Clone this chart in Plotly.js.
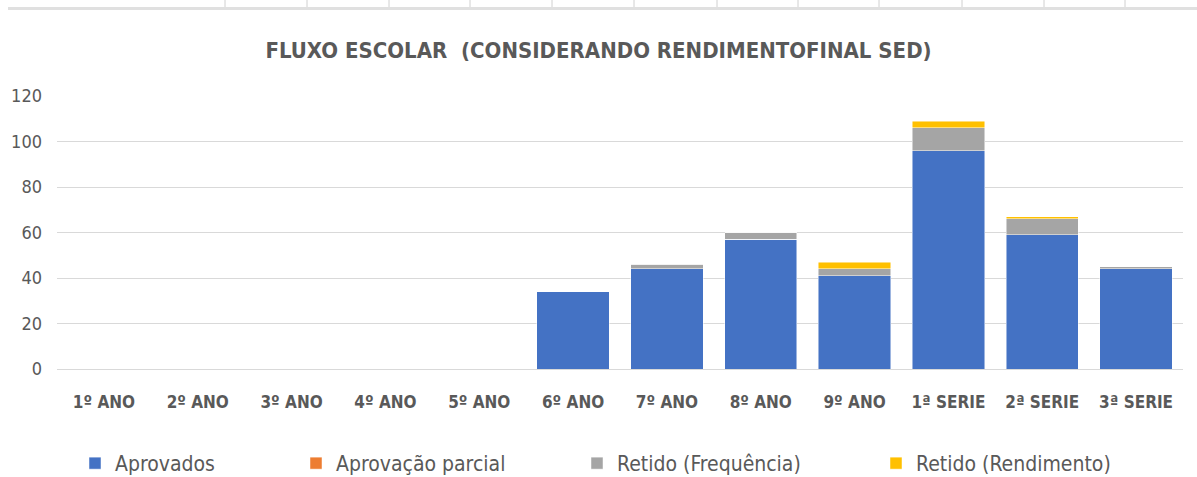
<!DOCTYPE html>
<html>
<head>
<meta charset="utf-8">
<script src="https://cdn.plot.ly/plotly-3.0.1.min.js"></script>
<style>
html,body{margin:0;padding:0;background:#fff;}
#chart{width:1197px;height:477px;}
</style>
</head>
<body>
<div id="chart"></div>
<script>
const categories = ["1º ANO","2º ANO","3º ANO","4º ANO","5º ANO","6º ANO","7º ANO","8º ANO","9º ANO","1ª SERIE","2ª SERIE","3ª SERIE"];
const aprovados = [0,0,0,0,0,34,44,57,41,96,59,44];
const aprovacaoParcial = [0,0,0,0,0,0,0,0,0,0,0,0];
const retidoFrequencia = [0,0,0,0,0,0,2,3,3,10,7,1];
const retidoRendimento = [0,0,0,0,0,0,0,0,3,3,1,0];
const seriesNames = ["Aprovados","Aprovação parcial","Retido (Frequência)","Retido (Rendimento)"];
const yTicks = [0,20,40,60,80,100,120];

const FONT = '"DejaVu Sans Condensed", "Liberation Sans Narrow", "Liberation Sans", sans-serif';
const colors = ["#4472C4","#ED7D31","#A5A5A5","#FFC000"];

// plot area in pixels
const L = 57, R = 1183, T = 96, B = 369;
const px = v => (v - L) / (R - L);
const py = v => (B - v) / (B - T);

const legendIds = ['legend','legend2','legend3','legend4'];
const legendLeft = [75, 296, 577, 876];

const data = [aprovados, aprovacaoParcial, retidoFrequencia, retidoRendimento].map((vals,i)=>({
  type:'bar', name: seriesNames[i], x: categories, y: vals, legend: legendIds[i],
  marker:{color: colors[i], line:{color:'rgba(255,255,255,0.6)', width:0.8}}
}));

// spreadsheet artifact at top
const vlines = [225,307,389,470,552,634,717,798,879,962,1044,1125];
const shapes = [{type:'rect', xref:'paper', yref:'paper', x0:px(8), x1:px(1197), y0:py(10), y1:py(7), fillcolor:'#E0E0E0', line:{width:0}}];
vlines.forEach(v=>shapes.push({type:'line', xref:'paper', yref:'paper', x0:px(v), x1:px(v), y0:py(7), y1:py(0), line:{color:'#D0D0D0', width:1}}));

const layout = {
  width:1197, height:477,
  margin:{l:L, r:1197-R, t:T, b:477-B, autoexpand:false},
  paper_bgcolor:'#fff', plot_bgcolor:'#fff',
  barmode:'stack', bargap:0.23,
  title:{text:'<b>FLUXO ESCOLAR  (CONSIDERANDO RENDIMENTOFINAL SED)</b>', x:0.5, xref:'container', xanchor:'center', y:0.91, yref:'container',
    font:{family:FONT, size:22, color:'#595959'}},
  xaxis:{showgrid:false, showline:true, linecolor:'#D9D9D9', linewidth:1, ticks:'', automargin:false,
    tickfont:{family:FONT, size:17, color:'#595959', weight:'bold'}, ticklabelstandoff:18, fixedrange:true},
  yaxis:{range:[0,120], tickvals:yTicks, showgrid:true, gridcolor:'#D9D9D9', gridwidth:1, zeroline:false, showline:false, ticks:'', automargin:false,
    tickfont:{family:FONT, size:18, color:'#595959'}, ticklabelstandoff:14, fixedrange:true},
  shapes: shapes,
  showlegend:true
};
legendIds.forEach((id,i)=>{
  layout[id] = {orientation:'h', x:px(legendLeft[i]), xanchor:'left', y:py(443), yanchor:'top',
    font:{family:FONT, size:21, color:'#595959'}, itemwidth:30, bgcolor:'rgba(0,0,0,0)'};
});
Plotly.newPlot('chart', data, layout, {displayModeBar:false, staticPlot:true});
</script>
</body>
</html>
